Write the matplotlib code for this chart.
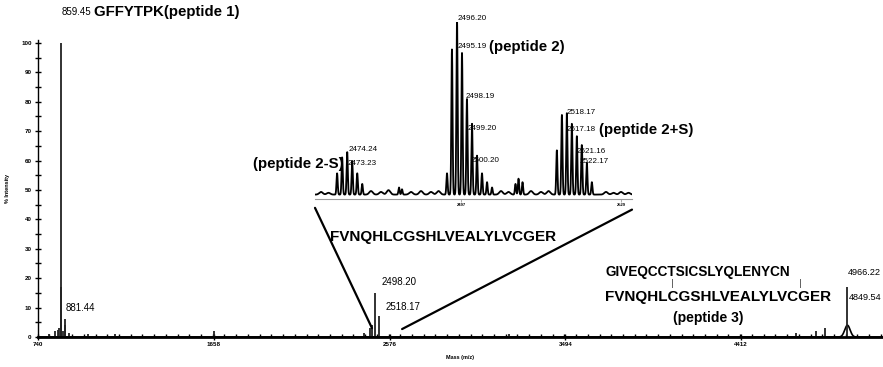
import numpy as np
import matplotlib
matplotlib.use("Agg")
import matplotlib.pyplot as plt
from matplotlib.patches import ConnectionPatch

# ---- main spectrum (m/z, % intensity) ----
main_mz = [800, 830, 845, 852, 859.45, 860.45, 861.45, 868, 881.44, 882.44, 900,
           1000, 1140, 1658, 2440, 2474, 2484, 2498.20, 2518.17, 3200, 4700,
           4800, 4849.54, 4966.22]
main_int = [1, 2, 2.5, 3, 100, 17, 4, 2, 6, 4, 1.5,
            1, 1, 2, 1.5, 3, 4, 15, 7, 1, 1.5,
            2, 3, 17]
hump_mz = [4966.22]
hump_int = [4]
hump_width = [14]

main_xticks = [740, 1658, 2576, 3494, 4412]
main_yticks = [0, 10, 20, 30, 40, 50, 60, 70, 80, 90, 100]

# ---- zoomed inset around peptide 2 ----
inset_mz = [2472.22, 2473.23, 2474.24, 2475.24, 2476.25, 2477.25,
            2484.6, 2485.2,
            2494.20, 2495.19, 2496.20, 2497.20, 2498.19, 2499.20, 2500.20,
            2501.20, 2502.21, 2503.21,
            2507.9, 2508.5, 2509.3,
            2516.17, 2517.18, 2518.17, 2519.17, 2520.17, 2521.16, 2522.17,
            2523.17]
inset_int = [12, 21, 24, 19, 12, 6,
             4, 3,
             12, 82, 100, 80, 54, 40, 22,
             12, 7, 4,
             6, 9, 7,
             25, 45, 46, 40, 33, 28, 18,
             7]
noise_mz = [2469, 2470.5, 2479, 2481, 2482.5, 2487, 2489, 2491, 2492.5,
            2505, 2506.5, 2511, 2513, 2514.5, 2526, 2527.5, 2529, 2530.5]
noise_int = [1.5, 1, 2, 1.5, 2.5, 1.5, 2, 1.5, 2,
             2, 1.5, 2, 1.5, 2, 1.5, 1, 1.5, 1]
inset_base = 2.5
inset_xticks = [2497, 2529]

W, H = 883, 367
fig = plt.figure(figsize=(W / 100, H / 100), dpi=100)
fig.patch.set_facecolor("white")

SANS = ["Liberation Sans", "DejaVu Sans"]

# main axes
ax = fig.add_axes([38 / W, 30 / H, 845 / W, 297 / H])
ax.set_xlim(740, 5152)
ax.set_ylim(0, 101)
for s in ("top", "right"):
    ax.spines[s].set_visible(False)
ax.spines["bottom"].set_linewidth(2.0)
ax.spines["left"].set_linewidth(1.0)

# broad hump under the 4966 cluster plus stick peaks
xg = np.linspace(740, 5152, 40000)
prof = np.zeros_like(xg)
for m, h, w in zip(hump_mz, hump_int, hump_width):
    prof += h * np.exp(-0.5 * ((xg - m) / w) ** 2)
ax.plot(xg, prof, color="black", lw=1.2)
ax.vlines(main_mz, 0, main_int, color="#222222", lw=1.3)

ax.set_xticks(main_xticks)
ax.set_xticklabels([str(t) for t in main_xticks], fontsize=4.5,
                   fontweight="bold", family=SANS)
ax.xaxis.set_minor_locator(matplotlib.ticker.MultipleLocator(918 / 15))
ax.tick_params(axis="x", which="major", direction="inout", length=5, width=1, pad=1)
ax.tick_params(axis="x", which="minor", direction="in", length=2.5, width=1)
ax.set_yticks(main_yticks)
ax.set_yticklabels([str(t) for t in main_yticks], fontsize=4.5,
                   fontweight="bold", family=SANS)
ax.yaxis.set_minor_locator(matplotlib.ticker.MultipleLocator(5))
ax.tick_params(axis="y", which="major", direction="inout", length=5, width=1, pad=2)
ax.tick_params(axis="y", which="minor", direction="inout", length=4, width=1)
ax.set_xlabel("Mass (m/z)", fontsize=4, fontweight="bold", family=SANS, labelpad=6)
ax.set_ylabel("% Intensity", fontsize=4, fontweight="bold", family=SANS, labelpad=8)

num_kw = dict(fontsize=7, family=SANS, va="center", ha="left", clip_on=False)
pep_kw = dict(fontsize=10.8, family=SANS, fontweight="bold", va="center",
              ha="left", clip_on=False)
seq_kw = dict(pep_kw, fontsize=11)

ax.text(862, 110.5, "859.45", **num_kw)
ax.text(1030, 110.5, "GFFYTPK(peptide 1)", **pep_kw)
ax.text(886, 9.9, "881.44", **num_kw)
ax.text(2536, 18.7, "2498.20", **num_kw)
ax.text(2557, 10.2, "2518.17", **num_kw)
ax.text(2265, 34, "FVNQHLCGSHLVEALYLVCGER", **seq_kw)
ax.text(3701, 22, "GIVEQCCTSICSLYQLENYCN", **dict(seq_kw, fontsize=9.8))
ax.text(3701, 13.6, "FVNQHLCGSHLVEALYLVCGER", **seq_kw)
ax.text(4239, 6.5, "(peptide 3)", **dict(pep_kw, ha="center", fontsize=10))
ax.text(4051, 18.2, "|", fontsize=6, ha="center", va="center", color="#333333")
ax.text(4719, 18.2, "|", fontsize=6, ha="center", va="center", color="#333333")
ax.text(4966, 22, "4966.22", **dict(num_kw, fontsize=6.6))
ax.text(4972, 13.6, "4849.54", **dict(num_kw, fontsize=6.6))

# inset axes
ins = fig.add_axes([315 / W, (H - 199) / H, 317 / W, 177 / H])
ins.set_xlim(2467.8, 2531.2)
ins.set_ylim(0, 100)
ins.patch.set_alpha(0)
for s in ("top", "right", "left"):
    ins.spines[s].set_visible(False)
ins.spines["bottom"].set_color("#9a9a9a")
ins.spines["bottom"].set_linewidth(0.8)
ins.set_yticks([])
ins.set_xticks(inset_xticks)
ins.set_xticklabels([str(t) for t in inset_xticks], fontsize=3, fontweight="bold",
                    family=SANS)
ins.tick_params(axis="x", length=2, width=0.6, pad=1, color="#9a9a9a")

xi = np.arange(2467.8, 2531.2, 0.01)
yi = np.full_like(xi, inset_base)
for m, h in zip(inset_mz, inset_int):
    yi += h * np.exp(-0.5 * ((xi - m) / 0.12) ** 2)
for m, h in zip(noise_mz, noise_int):
    yi += h * np.exp(-0.5 * ((xi - m) / 0.35) ** 2)
ins.plot(xi, yi, color="black", lw=1.3)

small = dict(fontsize=5.8, family=SANS, va="center", ha="left", clip_on=False)
ins.text(2496.3, 102, "2496.20", **small)
ins.text(2496.3, 86, "2495.19", **small)
ins.text(2502.6, 86, "(peptide 2)", **pep_kw)
ins.text(2498.0, 58, "2498.19", **small)
ins.text(2498.4, 40, "2499.20", **small)
ins.text(2499.0, 22, "2500.20", **small)
ins.text(2518.2, 49, "2518.17", **small)
ins.text(2518.2, 39, "2517.18", **small)
ins.text(2524.5, 39, "(peptide 2+S)", **pep_kw)
ins.text(2520.2, 27, "2521.16", **small)
ins.text(2520.8, 21, "2522.17", **small)
ins.text(2474.5, 28, "2474.24", **small)
ins.text(2474.3, 20, "2473.23", **small)
ins.text(2473.6, 20, "(peptide 2-S)", **dict(pep_kw, ha="right"))

# connector lines from the inset down to the zoomed region of the main trace
for xa, ya, xb, yb in [(0.0, -0.05, 2484, 3.0), (1.0, -0.06, 2641, 2.7)]:
    cp = ConnectionPatch(xyA=(xa, ya), coordsA=ins.transAxes,
                         xyB=(xb, yb), coordsB=ax.transData,
                         color="black", lw=1.6)
    fig.add_artist(cp)

fig.savefig("out.png", dpi=100, facecolor="white")
